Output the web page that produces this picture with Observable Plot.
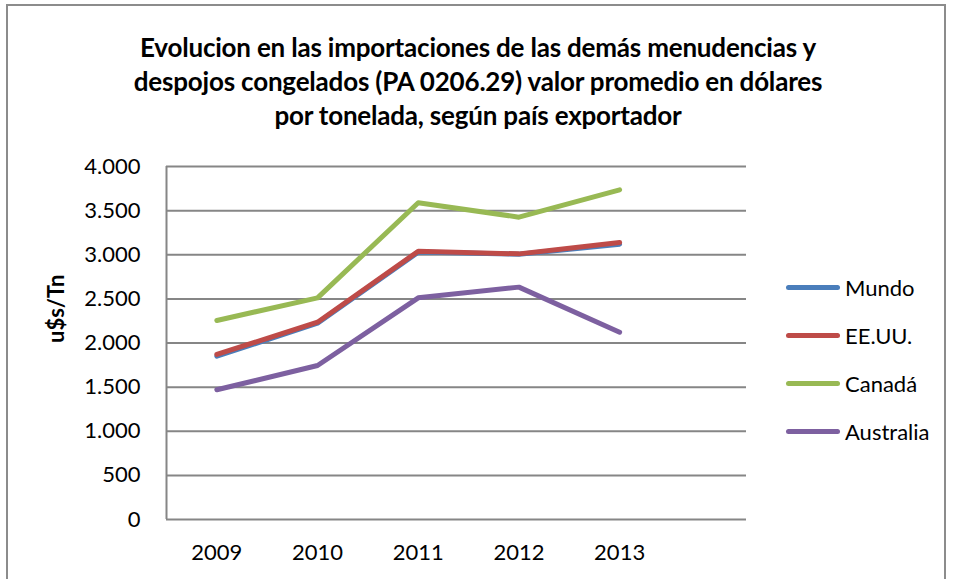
<!DOCTYPE html>
<html>
<head>
<meta charset="utf-8">
<script src="https://cdn.jsdelivr.net/npm/d3@7"></script>
<script src="https://cdn.jsdelivr.net/npm/@observablehq/plot@0.6"></script>
<style>
  html, body { margin: 0; padding: 0; background: #fff; }
  #wrap { position: relative; width: 956px; height: 579px; overflow: hidden; font-family: Lato, "Open Sans", sans-serif; }
  #border { position: absolute; left: 6px; top: 4px; width: 940px; height: 600px; border: 2px solid #8c8c8c; box-sizing: border-box; }
  #title { position: absolute; left: 0; top: 30px; width: 956px; text-align: center; font-weight: bold; font-size: 26px; line-height: 34px; color: #000; letter-spacing: -0.2px; }
  #legend { position: absolute; left: 786px; top: 263px; font-size: 22px; color: #000; }
  .row { display: flex; align-items: center; height: 48px; }
  .sw { width: 54px; height: 5px; border-radius: 3px; margin-right: 5px; }
  svg { position: absolute; left: 0; top: 0; }
</style>
</head>
<body>
<div id="wrap">
  <div id="border"></div>
  <div id="title">Evolucion en las importaciones de las demás menudencias y<br>despojos congelados (PA 0206.29) valor promedio en dólares<br>por tonelada, según país exportador</div>
  <div id="legend"></div>
</div>
<script>
const years = [2009, 2010, 2011, 2012, 2013];
const seriesNames = ["Mundo", "EE.UU.", "Canadá", "Australia"];
const colors = ["#4A7EBB", "#BE4B48", "#98B954", "#7D60A0"];
const mundo = [1850, 2225, 3030, 3005, 3120];
const eeuu = [1870, 2236, 3040, 3010, 3139];
const canada = [2255, 2512, 3589, 3426, 3736];
const australia = [1470, 1745, 2512, 2633, 2122];
const yTicks = [0, 500, 1000, 1500, 2000, 2500, 3000, 3500, 4000];

const values = [mundo, eeuu, canada, australia];
const data = [];
seriesNames.forEach((s, i) => years.forEach((y, j) => data.push({serie: s, year: y, value: values[i][j]})));

const fmt = d => d3.format(",")(d).replace(/,/g, ".");

const chart = Plot.plot({
  width: 956,
  height: 579,
  marginLeft: 166,
  marginRight: 210,
  marginTop: 166,
  marginBottom: 60,
  style: { fontFamily: "Lato, 'Open Sans', sans-serif", background: "transparent" },
  x: { type: "linear", domain: [2008.5, 2014.26] },
  y: { domain: [0, 4000] },
  color: { domain: seriesNames, range: colors },
  marks: [
    Plot.gridY(yTicks, { stroke: "#868686", strokeOpacity: 1, strokeWidth: 2 }),
    Plot.ruleX([2008.5], { stroke: "#868686", strokeWidth: 2 }),
    Plot.axisY(yTicks, { tickFormat: fmt, tickSize: 0, tickPadding: 26, fontSize: 22, label: null, color: "#000" }),
    Plot.axisX(years, { tickFormat: d => String(d), tickSize: 0, tickPadding: 25, fontSize: 22, label: null, color: "#000" }),
    Plot.text(["u$s/Tn"], { frameAnchor: "left", dx: -110, rotate: -90, fontSize: 22, fontWeight: "bold", fill: "#000" }),
    Plot.line(data, { x: "year", y: "value", z: "serie", stroke: "serie", strokeWidth: 5, strokeLinecap: "round", strokeLinejoin: "round" })
  ]
});
document.getElementById("wrap").appendChild(chart);

const legend = document.getElementById("legend");
seriesNames.forEach((s, i) => {
  const row = document.createElement("div");
  row.className = "row";
  row.innerHTML = `<div class="sw" style="background:${colors[i]}"></div><span>${s}</span>`;
  legend.appendChild(row);
});
</script>
</body>
</html>
